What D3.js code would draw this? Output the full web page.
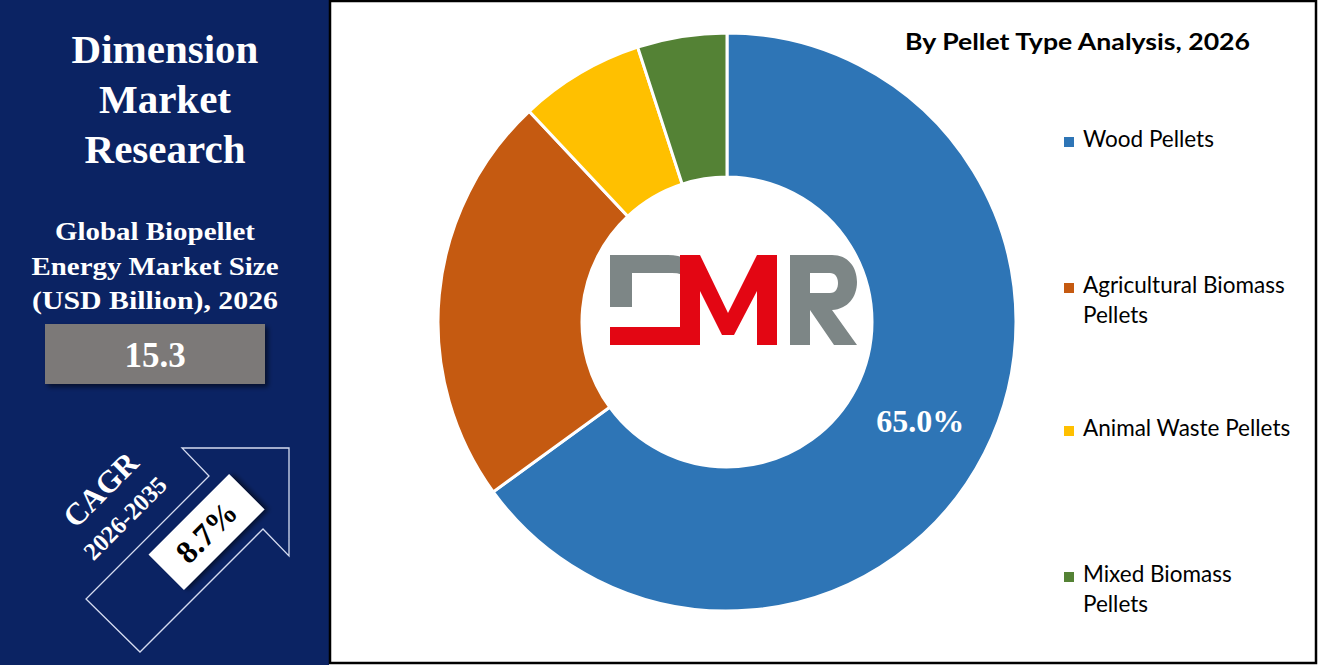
<!DOCTYPE html>
<html>
<head>
<meta charset="utf-8">
<script src="https://cdn.jsdelivr.net/npm/d3@7"></script>
<style>
  html, body { margin: 0; padding: 0; background: #fff; }
  svg { display: block; }
</style>
</head>
<body>
<svg id="chart" width="1318" height="665"></svg>
<script>
// ---- data ----
const categories = ["Wood Pellets", "Agricultural Biomass Pellets", "Animal Waste Pellets", "Mixed Biomass Pellets"];
const legendLines = [["Wood Pellets"], ["Agricultural Biomass", "Pellets"], ["Animal Waste Pellets"], ["Mixed Biomass", "Pellets"]];
const shares = [65.0, 23.0, 7.0, 5.0];
const colors = ["#2e75b6", "#c55a11", "#ffc000", "#548235"];
const shownLabels = ["65.0%", null, null, null];
const chartTitle = "By Pellet Type Analysis, 2026";
const brandLines = ["Dimension", "Market", "Research"];
const subtitleLines = ["Global Biopellet", "Energy Market Size", "(USD Billion), 2026"];
const marketSize = "15.3";
const cagrLabel = "CAGR";
const cagrPeriod = "2026-2035";
const cagrValue = "8.7%";

const svg = d3.select("#chart");
const serif = "'Liberation Serif', 'Times New Roman', serif";
const sans = "Lato, 'Open Sans', sans-serif";

const defs = svg.append("defs");
const sh = defs.append("filter").attr("id", "shadow").attr("x", "-20%").attr("y", "-20%").attr("width", "150%").attr("height", "150%");
sh.append("feDropShadow").attr("dx", 3).attr("dy", 3).attr("stdDeviation", 2.5).attr("flood-color", "#000").attr("flood-opacity", 0.55);

// ---- left panel ----
svg.append("rect").attr("x", 0).attr("y", 0).attr("width", 329).attr("height", 665).attr("fill", "#0b2363");

const brandY = [63, 113, 163];
svg.selectAll("text.brand").data(brandLines).join("text")
  .attr("class", "brand")
  .attr("x", 165).attr("y", (d, i) => brandY[i])
  .attr("text-anchor", "middle")
  .attr("font-family", serif).attr("font-weight", "bold").attr("font-size", 41)
  .attr("fill", "#fff").text(d => d);

const subY = [240, 275, 309];
svg.selectAll("text.sub").data(subtitleLines).join("text")
  .attr("class", "sub")
  .attr("x", 155).attr("y", (d, i) => subY[i])
  .attr("text-anchor", "middle")
  .attr("font-family", serif).attr("font-weight", "bold").attr("font-size", 25)
  .attr("fill", "#fff").text(d => d)
  .each(function () {
    const target = { "Global Biopellet": 200, "Energy Market Size": 247, "(USD Billion), 2026": 246 }[this.textContent];
    const w = this.getComputedTextLength();
    if (target && Math.abs(w - target) > 4) d3.select(this).attr("textLength", target).attr("lengthAdjust", "spacingAndGlyphs");
  });

svg.append("rect").attr("x", 45).attr("y", 324).attr("width", 220).attr("height", 60)
  .attr("fill", "#7b7978").attr("filter", "url(#shadow)");
svg.append("text").attr("x", 155).attr("y", 367).attr("text-anchor", "middle")
  .attr("font-family", serif).attr("font-weight", "bold").attr("font-size", 35)
  .attr("fill", "#fff").text(marketSize);

// CAGR arrow outline
const arrowPts = [[182, 448], [289, 448], [289, 556], [263, 529], [140, 652], [86, 599], [209, 476]];
svg.append("path").attr("d", d3.line()(arrowPts) + "Z")
  .attr("fill", "none").attr("stroke", "#d6dcf0").attr("stroke-width", 1.3);

const cagrG = svg.append("g").attr("transform", "translate(206.5,532) rotate(-45)");
cagrG.append("rect").attr("x", -57).attr("y", -25).attr("width", 114).attr("height", 50)
  .attr("fill", "#fff").attr("filter", "url(#shadow)");
cagrG.append("text").attr("x", 0).attr("y", 11).attr("text-anchor", "middle")
  .attr("font-family", serif).attr("font-weight", "bold").attr("font-size", 32)
  .attr("fill", "#000").text(cagrValue);

svg.append("text").attr("transform", "translate(108,497) rotate(-45)")
  .attr("text-anchor", "middle").attr("font-family", serif).attr("font-weight", "bold")
  .attr("font-size", 31).attr("fill", "#fff").text(cagrLabel);
svg.append("text").attr("transform", "translate(131,524) rotate(-45)")
  .attr("text-anchor", "middle").attr("font-family", serif).attr("font-weight", "bold")
  .attr("font-size", 24.5).attr("fill", "#fff").text(cagrPeriod);

// ---- right panel ----
svg.append("rect").attr("x", 330).attr("y", 1).attr("width", 986).attr("height", 662)
  .attr("fill", "#fff").attr("stroke", "#000").attr("stroke-width", 2.5);

svg.append("text").attr("x", 905).attr("y", 50)
  .attr("font-family", sans).attr("font-weight", "bold").attr("font-size", 23)
  .attr("fill", "#000").text(chartTitle)
  .each(function () {
    const w = this.getComputedTextLength();
    if (Math.abs(w - 345) > 4) d3.select(this).attr("textLength", 345).attr("lengthAdjust", "spacingAndGlyphs");
  });

// donut
const cx = 727, cy = 322, rOuter = 289, rInner = 145;
const pie = d3.pie().sort(null).value(d => d);
const arc = d3.arc().innerRadius(rInner).outerRadius(rOuter);
const arcs = pie(shares);
const g = svg.append("g").attr("transform", `translate(${cx},${cy})`);
g.selectAll("path").data(arcs).join("path")
  .attr("d", arc)
  .attr("fill", (d, i) => colors[i])
  .attr("stroke", "#fff").attr("stroke-width", 3).attr("stroke-linejoin", "miter");

g.selectAll("text.lbl").data(arcs.filter((d, i) => shownLabels[i])).join("text")
  .attr("class", "lbl")
  .attr("transform", d => { const c = arc.centroid(d); return `translate(${c[0]},${c[1] + 11})`; })
  .attr("text-anchor", "middle")
  .attr("font-family", serif).attr("font-weight", "bold").attr("font-size", 32)
  .attr("fill", "#fff").text(d => shownLabels[d.index]);

// DMR logo
const logo = svg.append("g").attr("transform", "translate(610,255)");
const gray = "#7d8686", red = "#e30613";
// D (gray)
logo.append("path").attr("d", "M0,0 H58 C72,0 84,6 90,16 L90,40 C86,26 76,18 62,18 H22 V52 H0 Z").attr("fill", gray);
// red base of D + M
logo.append("path").attr("d", "M0,72 H70 V0 H90 L118,58 L147,0 H167 V90 H147 V36 L124,80 H112 L90,36 V90 H0 Z").attr("fill", red);
// R (gray)
logo.append("path").attr("d", "M180,0 H222 C238,0 247,12 247,27 C247,42 238,54 222,55 L247,90 H224 L200,55 H200 V90 H180 Z M200,18 V38 H220 C226,38 228,33 228,28 C228,22 225,18 220,18 Z")
  .attr("fill", gray).attr("fill-rule", "evenodd");

// legend
const legY = [147, 293, 436, 582];
const leg = svg.selectAll("g.leg").data(categories).join("g").attr("class", "leg")
  .attr("transform", (d, i) => `translate(1064,${legY[i]})`);
leg.append("rect").attr("x", 0).attr("y", -10).attr("width", 10).attr("height", 10)
  .attr("fill", (d, i) => colors[i]);
leg.each(function (d, i) {
  const t = d3.select(this).append("text").attr("x", 19).attr("y", 0)
    .attr("font-family", sans).attr("font-size", 22.5).attr("fill", "#000");
  legendLines[i].forEach((ln, j) => {
    t.append("tspan").attr("x", 19).attr("dy", j === 0 ? 0 : 30).text(ln);
  });
});
</script>
</body>
</html>
